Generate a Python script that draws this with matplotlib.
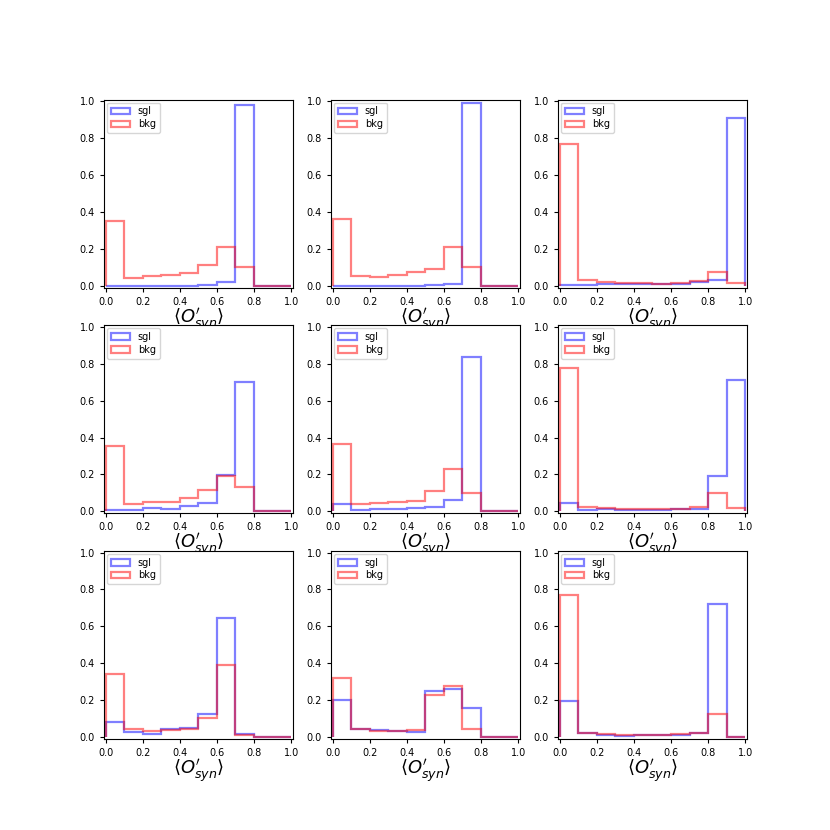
import numpy as np
import matplotlib
matplotlib.use('Agg')
import matplotlib.pyplot as plt

# histogram bins of <O'_syn>
bin_edges = np.linspace(0, 1, 11)
bin_centers = 0.5 * (bin_edges[:-1] + bin_edges[1:])

# fraction of events per bin, one row per panel
sgl_fracs = [
    [0.0, 0.0, 0.0, 0.0, 0.0, 0.002, 0.018, 0.98, 0.0, 0.0],
    [0.0, 0.0, 0.0, 0.0, 0.0, 0.003, 0.007, 0.99, 0.0, 0.0],
    [0.002, 0.005, 0.007, 0.007, 0.008, 0.008, 0.01, 0.02, 0.03, 0.91],
    [0.005, 0.005, 0.02, 0.015, 0.028, 0.045, 0.195, 0.70, 0.0, 0.0],
    [0.04, 0.008, 0.015, 0.01, 0.018, 0.025, 0.06, 0.835, 0.0, 0.0],
    [0.045, 0.005, 0.01, 0.005, 0.008, 0.008, 0.01, 0.015, 0.19, 0.715],
    [0.078, 0.025, 0.018, 0.045, 0.048, 0.122, 0.645, 0.015, 0.0, 0.0],
    [0.198, 0.042, 0.038, 0.03, 0.025, 0.25, 0.262, 0.155, 0.0, 0.0],
    [0.195, 0.02, 0.01, 0.005, 0.008, 0.008, 0.012, 0.02, 0.72, 0.0],
]
bkg_fracs = [
    [0.35, 0.04, 0.055, 0.06, 0.07, 0.11, 0.21, 0.10, 0.0, 0.0],
    [0.36, 0.053, 0.048, 0.058, 0.075, 0.09, 0.21, 0.10, 0.0, 0.0],
    [0.77, 0.033, 0.018, 0.015, 0.015, 0.012, 0.013, 0.025, 0.072, 0.015],
    [0.355, 0.04, 0.052, 0.05, 0.07, 0.113, 0.19, 0.13, 0.0, 0.0],
    [0.365, 0.04, 0.047, 0.053, 0.058, 0.11, 0.23, 0.10, 0.0, 0.0],
    [0.78, 0.025, 0.018, 0.012, 0.012, 0.012, 0.015, 0.022, 0.10, 0.018],
    [0.342, 0.04, 0.033, 0.038, 0.042, 0.10, 0.39, 0.01, 0.0, 0.0],
    [0.318, 0.04, 0.032, 0.03, 0.037, 0.225, 0.275, 0.043, 0.0, 0.0],
    [0.77, 0.022, 0.015, 0.01, 0.01, 0.01, 0.015, 0.022, 0.125, 0.0],
]

fig, axs = plt.subplots(3, 3, figsize=(8.3, 8.3), dpi=100)

for idx, ax in enumerate(axs.flat):
    ax.hist(bin_centers, bins=bin_edges, weights=sgl_fracs[idx], histtype='step',
            color='blue', alpha=0.5, linewidth=1.6, label='sgl')
    ax.hist(bin_centers, bins=bin_edges, weights=bkg_fracs[idx], histtype='step',
            color='red', alpha=0.5, linewidth=1.6, label='bkg')
    ax.set_xlim(-0.01, 1.01)
    ax.set_ylim(-0.01, 1.01)
    ax.tick_params(labelsize=7, length=3)
    ax.set_xlabel(r'$\langle O^{\prime}_{syn} \rangle$', fontsize=13, labelpad=0)
    ax.legend(loc='upper left', fontsize=7, labelspacing=0.3, borderaxespad=0.3)

fig.savefig('out.png')
